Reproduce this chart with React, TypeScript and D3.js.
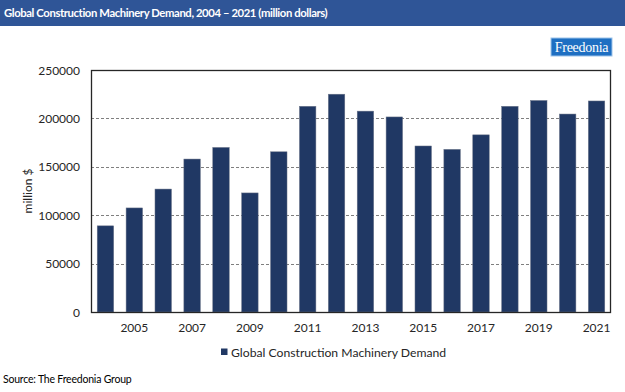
import React, { useEffect, useRef } from "react";
import * as d3 from "d3";

const years = [2004, 2005, 2006, 2007, 2008, 2009, 2010, 2011, 2012, 2013, 2014, 2015, 2016, 2017, 2018, 2019, 2020, 2021];
const demand = [89000, 107500, 127000, 158000, 170000, 123000, 165500, 212500, 225000, 207500, 201500, 171500, 168000, 183000, 212500, 218500, 204500, 218000];
const yTicks = [0, 50000, 100000, 150000, 200000, 250000];
const xTickYears = [2005, 2007, 2009, 2011, 2013, 2015, 2017, 2019, 2021];

const seriesName = "Global Construction Machinery Demand";
const title = "Global Construction Machinery Demand, 2004 \u2013 2021 (million dollars)";
const source = "Source: The Freedonia Group";

const font = "Lato, 'Open Sans', sans-serif";
const barColor = "#203864";

export default function App() {
  const ref = useRef<SVGSVGElement>(null);

  useEffect(() => {
    const svg = d3.select(ref.current);
    svg.selectAll("*").remove();

    const width = 625;
    const height = 392;
    const plot = { left: 91, right: 611, top: 70, bottom: 312 };

    svg.attr("width", width).attr("height", height);

    // title band
    svg.append("rect").attr("x", 0).attr("y", 0).attr("width", width).attr("height", 26).attr("fill", "#2F5597");
    svg.append("text")
      .attr("x", 4).attr("y", 17)
      .attr("fill", "#fff")
      .style("font-family", font).style("font-weight", "bold").style("font-size", "11.3px")
      .style("letter-spacing", "-0.4px")
      .text(title);

    // logo
    const logo = svg.append("g").attr("transform", "translate(551,38)");
    logo.append("rect").attr("width", 61).attr("height", 18).attr("fill", "#1E6FC2").attr("stroke", "#9CC3EA").attr("stroke-width", 1);
    logo.append("text")
      .attr("x", 30.5).attr("y", 14)
      .attr("text-anchor", "middle")
      .attr("fill", "#fff")
      .style("font-family", "'Liberation Serif', 'DejaVu Serif', 'Times New Roman', serif").style("font-size", "14px")
      .style("letter-spacing", "-0.3px")
      .text("Freedonia");

    const x = d3.scaleBand<number>().domain(years).range([plot.left, plot.right]).paddingInner(0.43).paddingOuter(0.215);
    const y = d3.scaleLinear().domain([0, 250000]).range([plot.bottom, plot.top]);

    // gridlines
    svg.append("g")
      .selectAll("line")
      .data(yTicks.filter(t => t > 0 && t < 250000))
      .join("line")
      .attr("x1", plot.left).attr("x2", plot.right)
      .attr("y1", d => Math.round(y(d)) + 0.5).attr("y2", d => Math.round(y(d)) + 0.5)
      .attr("stroke", "#7f7f7f").attr("stroke-dasharray", "3,2").attr("stroke-width", 1);

    // bars
    svg.append("g")
      .selectAll("rect")
      .data(years)
      .join("rect")
      .attr("x", d => x(d)!)
      .attr("width", x.bandwidth())
      .attr("y", (d, i) => y(demand[i]))
      .attr("height", (d, i) => plot.bottom - y(demand[i]))
      .attr("fill", barColor)
      .attr("stroke", "#6b7488").attr("stroke-width", 0.5);

    // frame
    svg.append("rect")
      .attr("x", plot.left + 0.5).attr("y", plot.top + 0.5)
      .attr("width", plot.right - plot.left - 1).attr("height", plot.bottom - plot.top)
      .attr("fill", "none").attr("stroke", "#262626").attr("stroke-width", 1.3);

    // y axis labels
    svg.append("g")
      .selectAll("text")
      .data(yTicks)
      .join("text")
      .attr("x", 80).attr("y", d => y(d) + 4.5)
      .attr("text-anchor", "end")
      .attr("fill", "#262626")
      .style("font-family", font).style("font-size", "12px")
      .text(d => String(d));

    svg.append("text")
      .attr("transform", `translate(32,${(plot.top + plot.bottom) / 2}) rotate(-90)`)
      .attr("text-anchor", "middle")
      .attr("fill", "#262626")
      .style("font-family", font).style("font-size", "12px")
      .text("million $");

    // x axis labels
    svg.append("g")
      .selectAll("text")
      .data(xTickYears)
      .join("text")
      .attr("x", d => x(d)! + x.bandwidth() / 2)
      .attr("y", 332)
      .attr("text-anchor", "middle")
      .attr("fill", "#262626")
      .style("font-family", font).style("font-size", "12px")
      .text(d => String(d));

    // legend
    svg.append("rect").attr("x", 221).attr("y", 348.5).attr("width", 6.5).attr("height", 6.5).attr("fill", barColor);
    svg.append("text")
      .attr("x", 231).attr("y", 356.5)
      .attr("fill", "#262626")
      .style("font-family", font).style("font-size", "12.2px")
      .text(seriesName);

    // source
    svg.append("text")
      .attr("x", 3).attr("y", 383)
      .attr("fill", "#000")
      .style("font-family", font).style("font-size", "10.5px")
      .style("letter-spacing", "-0.2px")
      .text(source);
  }, []);

  return (
    <svg ref={ref} style={{ position: "absolute", left: 0, top: 0 }} />
  );
}
